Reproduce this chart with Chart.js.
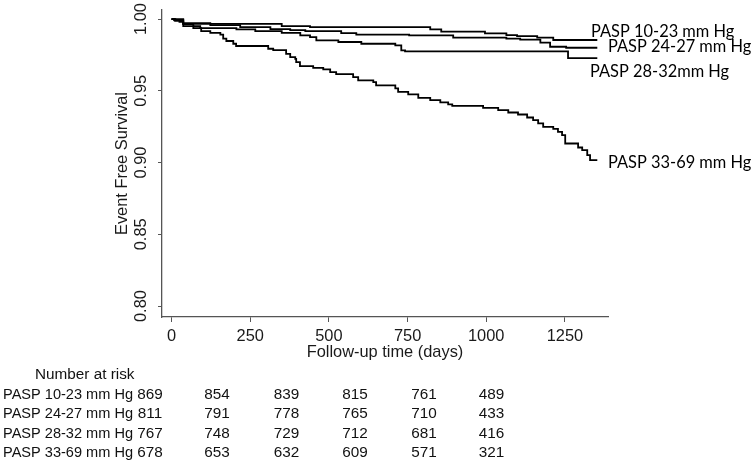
<!DOCTYPE html>
<html>
<head>
<meta charset="utf-8">
<script src="https://cdn.jsdelivr.net/npm/chart.js@4.4.0/dist/chart.umd.min.js"></script>
<style>
  body { margin: 0; background: #fff; }
  #kmChart { display: block; }
</style>
</head>
<body>
<canvas id="kmChart" width="756" height="463"></canvas>
<script>
// survival curves (days, event free survival)
const groupNames = ["PASP 10-23 mm Hg", "PASP 24-27 mm Hg", "PASP 28-32 mm Hg", "PASP 33-69 mm Hg"];
const curveLabels = ["PASP 10-23 mm Hg", "PASP 24-27 mm Hg", "PASP 28-32mm Hg", "PASP 33-69 mm Hg"];

const days1 = [0, 10, 25, 37, 350, 440, 822, 857, 996, 1064, 1098, 1162, 1213, 1353];
const surv1 = [1, 0.999, 0.998, 0.9967, 0.9951, 0.9944, 0.9928, 0.9913, 0.9900, 0.9888, 0.9881, 0.9870, 0.9854, 0.9854];

const days2 = [0, 8, 37, 123, 218, 314, 377, 425, 539, 587, 755, 895, 1064, 1108, 1172, 1203, 1254, 1353];
const surv2 = [1, 0.9993, 0.9972, 0.9958, 0.9944, 0.9930, 0.9923, 0.9916, 0.9902, 0.9891, 0.9886, 0.9870, 0.9864, 0.9857, 0.9835, 0.9807, 0.9800, 0.9800];

const days3 = [0, 12, 37, 69, 91, 206, 266, 350, 409, 440, 460, 530, 603, 711, 730, 742, 1260, 1353];
const surv3 = [1, 0.999, 0.9965, 0.9951, 0.9937, 0.9928, 0.9916, 0.9904, 0.9886, 0.9874, 0.9851, 0.9840, 0.9828, 0.9817, 0.9782, 0.9775, 0.9728, 0.9728];

const days4 = [0, 37, 69, 94, 123, 155, 164, 174, 196, 205, 307, 323, 364, 377, 393, 396, 408, 450, 482, 504,
  523, 577, 593, 641, 650, 711, 720, 752, 784, 822, 854, 879, 892, 990, 1038, 1070, 1101, 1130, 1149, 1165,
  1181, 1213, 1228, 1241, 1251, 1292, 1305, 1321, 1330, 1353];
const surv4 = [1, 0.9951, 0.9937, 0.9916, 0.9904, 0.9891, 0.9863, 0.9847, 0.9828, 0.9812, 0.9793, 0.9784, 0.9758, 0.9735, 0.9723, 0.9700, 0.9672, 0.9660, 0.9649, 0.9630,
  0.9616, 0.9596, 0.9573, 0.9561, 0.9538, 0.9517, 0.9493, 0.9475, 0.9451, 0.9435, 0.9419, 0.9405, 0.9395, 0.9381, 0.9365, 0.9349, 0.9335, 0.9314, 0.9296, 0.9273,
  0.9249, 0.9235, 0.9214, 0.9191, 0.9133, 0.9105, 0.9086, 0.9052, 0.9017, 0.9017];

// axis ticks
const xTicks = [0, 250, 500, 750, 1000, 1250];
const yTicks = [0.80, 0.85, 0.90, 0.95, 1.00];
const yTickLabels = ["0.80", "0.85", "0.90", "0.95", "1.00"];

// number at risk table
const riskHeader = "Number at risk";
const risk1 = [869, 854, 839, 815, 761, 489];
const risk2 = [811, 791, 778, 765, 710, 433];
const risk3 = [767, 748, 729, 712, 681, 416];
const risk4 = [678, 653, 632, 609, 571, 321];

var toPoints = function(days, surv) {
  return days.map(function(d, i) { return { x: d, y: surv[i] }; });
};

var axisFont = '16.4px "Liberation Sans", Arial, sans-serif';
var tableFont = '15.3px "Liberation Sans", Arial, sans-serif';
var curveFont = '16.4px Lato, "Open Sans", sans-serif';

// text that Stata puts around the plot region
var annotations = {
  id: "annotations",
  afterDraw(chart) {
    const ctx = chart.ctx;
    const xs = chart.scales.x;
    const ys = chart.scales.y;
    const area = chart.chartArea;
    ctx.save();
    ctx.fillStyle = "#1a1a1a";

    // x tick labels + title
    ctx.font = axisFont;
    ctx.textAlign = "center";
    ctx.textBaseline = "middle";
    xTicks.forEach(function(v) {
      ctx.fillText(String(v), xs.getPixelForValue(v), area.bottom + 19);
    });
    ctx.fillText("Follow-up time (days)", (area.left + area.right) / 2, area.bottom + 35);

    // y tick labels, rotated
    yTicks.forEach(function(v, i) {
      ctx.save();
      ctx.translate(area.left - 21, ys.getPixelForValue(v));
      ctx.rotate(-Math.PI / 2);
      ctx.fillText(yTickLabels[i], 0, 0);
      ctx.restore();
    });
    ctx.save();
    ctx.translate(area.left - 40, (area.top + area.bottom) / 2);
    ctx.rotate(-Math.PI / 2);
    ctx.fillText("Event Free Survival", 0, 0);
    ctx.restore();

    // curve labels
    ctx.fillStyle = "#000";
    ctx.font = curveFont;
    ctx.textAlign = "left";
    var labelPos = [[591, 32], [608, 47], [590, 72], [608, 163]];
    curveLabels.forEach(function(t, i) {
      ctx.fillText(t, labelPos[i][0], labelPos[i][1]);
    });

    // number at risk
    ctx.fillStyle = "#111";
    ctx.font = tableFont;
    ctx.textAlign = "left";
    ctx.fillText(riskHeader, 35, 375);
    var colX = [150, 217, 286.5, 355, 424, 491.5];
    var rowY = [394.5, 414, 433.5, 453];
    [risk1, risk2, risk3, risk4].forEach(function(row, r) {
      ctx.textAlign = "left";
      ctx.fillText(groupNames[r], 3, rowY[r], 130);
      ctx.textAlign = "center";
      row.forEach(function(n, c) {
        ctx.fillText(String(n), colX[c], rowY[r]);
      });
    });
    ctx.restore();
  }
};

var lineStyle = {
  borderColor: "#000",
  borderWidth: 1.8,
  pointRadius: 0,
  stepped: "before",
  fill: false
};

new Chart(document.getElementById("kmChart"), {
  type: "line",
  data: {
    datasets: [
      Object.assign({ label: groupNames[0], data: toPoints(days1, surv1) }, lineStyle),
      Object.assign({ label: groupNames[1], data: toPoints(days2, surv2) }, lineStyle),
      Object.assign({ label: groupNames[2], data: toPoints(days3, surv3) }, lineStyle),
      Object.assign({ label: groupNames[3], data: toPoints(days4, surv4) }, lineStyle)
    ]
  },
  options: {
    responsive: false,
    animation: false,
    devicePixelRatio: 1,
    layout: { padding: { top: 10, right: 148, bottom: 0, left: 0 } },
    plugins: {
      legend: { display: false },
      tooltip: { enabled: false }
    },
    scales: {
      x: {
        type: "linear",
        min: -30.5,
        max: 1387,
        afterBuildTicks: function(s) { s.ticks = xTicks.map(function(v) { return { value: v }; }); },
        afterFit: function(s) { s.height = 146; },
        ticks: { display: false },
        grid: { drawOnChartArea: false, drawTicks: true, tickLength: 5, color: "#555", lineWidth: 1 },
        border: { display: true, color: "#555", width: 1.3 }
      },
      y: {
        type: "linear",
        min: 0.7924,
        max: 1.0063,
        afterBuildTicks: function(s) { s.ticks = yTicks.map(function(v) { return { value: v }; }); },
        afterFit: function(s) { s.width = 162; },
        ticks: { display: false },
        grid: { drawOnChartArea: false, drawTicks: true, tickLength: 4, color: "#555", lineWidth: 1 },
        border: { display: true, color: "#555", width: 1.3 }
      }
    }
  },
  plugins: [annotations]
});
</script>
</body>
</html>
